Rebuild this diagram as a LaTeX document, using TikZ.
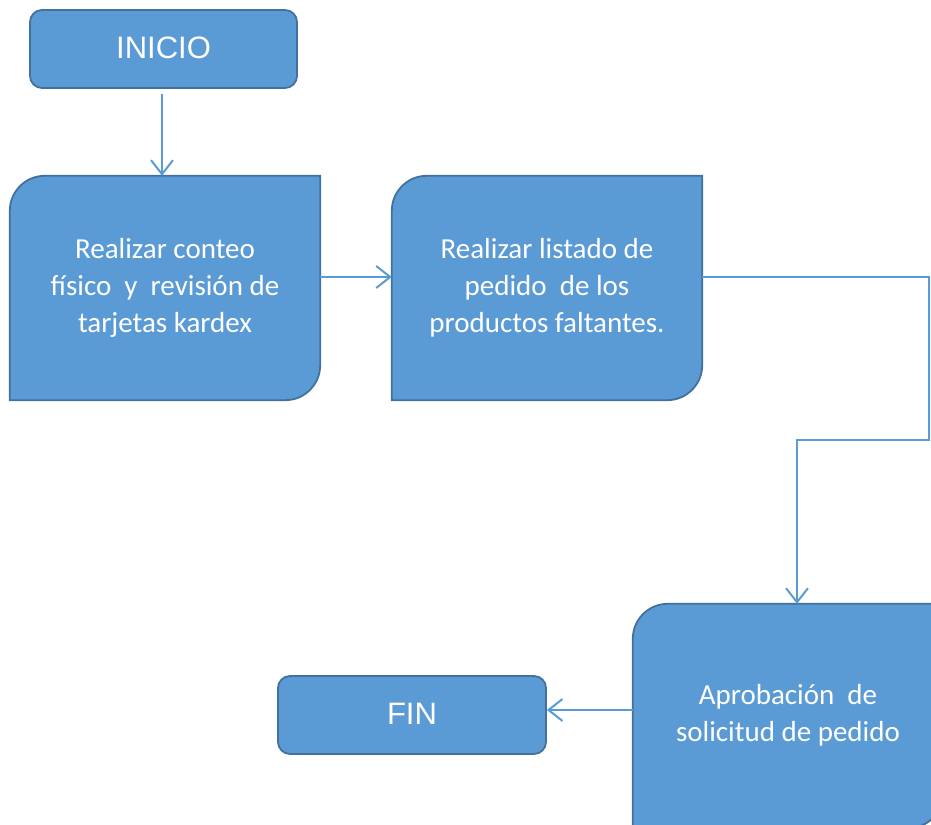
\documentclass[tikz,border=0pt]{standalone}
\usepackage{fontspec}
\setmainfont{Carlito}
\newfontfamily\arialf{Liberation Sans}
\usetikzlibrary{arrows.meta,backgrounds}
\definecolor{boxfill}{HTML}{5B9BD5}
\definecolor{boxline}{HTML}{41719C}
\definecolor{connc}{HTML}{5B9BD5}
\tikzset{
  term/.style={rectangle, rounded corners=12pt, draw=boxline, line width=1.8pt, fill=boxfill,
    text=white, minimum width=267pt, minimum height=78pt, inner sep=0pt,
    font=\arialf\fontsize{31}{36}\selectfont},
  proc/.style={rectangle, inner sep=0pt, minimum width=310pt, minimum height=224pt,
    text=white, font=\fontsize{29}{37}\selectfont},
  tabshape/.style={draw=boxline, fill=boxfill, line width=1.8pt},
  conn/.style={draw=connc, line width=2pt,
    -{Straight Barb[length=14pt,width=22pt,line width=2pt]}},
}
\newcommand\ptext[1]{\raisebox{-3pt}{\begin{tabular}{@{}c@{}}#1\end{tabular}}}
\newcommand\mytab[1]{\path[tabshape] (#1.south west) -- ([yshift=-35pt]#1.north west)
  arc[start angle=180,end angle=90,radius=35pt] -- (#1.north east)
  -- ([yshift=35pt]#1.south east) arc[start angle=0,end angle=-90,radius=35pt] -- cycle;}
\begin{document}
\begin{tikzpicture}[x=1pt,y=1pt]
\useasboundingbox (0,0) rectangle (931,824);
\clip (0,0) rectangle (931,824);
\node[term] (ini) at (163.5,775) {\raisebox{3pt}{INICIO}};
\node[proc] (b1) at (165,536) {\ptext{Realizar conteo\\físico~ y~ revisión de\\tarjetas kardex}};
\node[proc] (b2) at (547,536) {\ptext{Realizar listado de\\pedido~ de los\\productos faltantes.}};
\node[proc] (b3) at (788,108) {\ptext{Aprobación~ de\\solicitud de pedido}};
\node[term, minimum width=268pt] (fin) at (412,109) {\raisebox{3pt}{FIN}};
\begin{pgfonlayer}{background}
\mytab{b1}
\mytab{b2}
\mytab{b3}
\end{pgfonlayer}
\coordinate (c1) at (929,384);
\coordinate (c2) at (797,384);
\coordinate (a3) at ([yshift=6pt]b3.west);
\draw[conn] ([xshift=-1.5pt,yshift=-5pt]ini.south) -- ([xshift=-3pt]b1.north);
\draw[conn] ([yshift=11pt]b1.east) -- ([yshift=11pt]b2.west);
\draw[conn] ([yshift=11pt]b2.east) -| (c1) -- (c2) -- (c2 |- b3.north);
\draw[conn] (a3) -- (fin.east |- a3);
\end{tikzpicture}
\end{document}
